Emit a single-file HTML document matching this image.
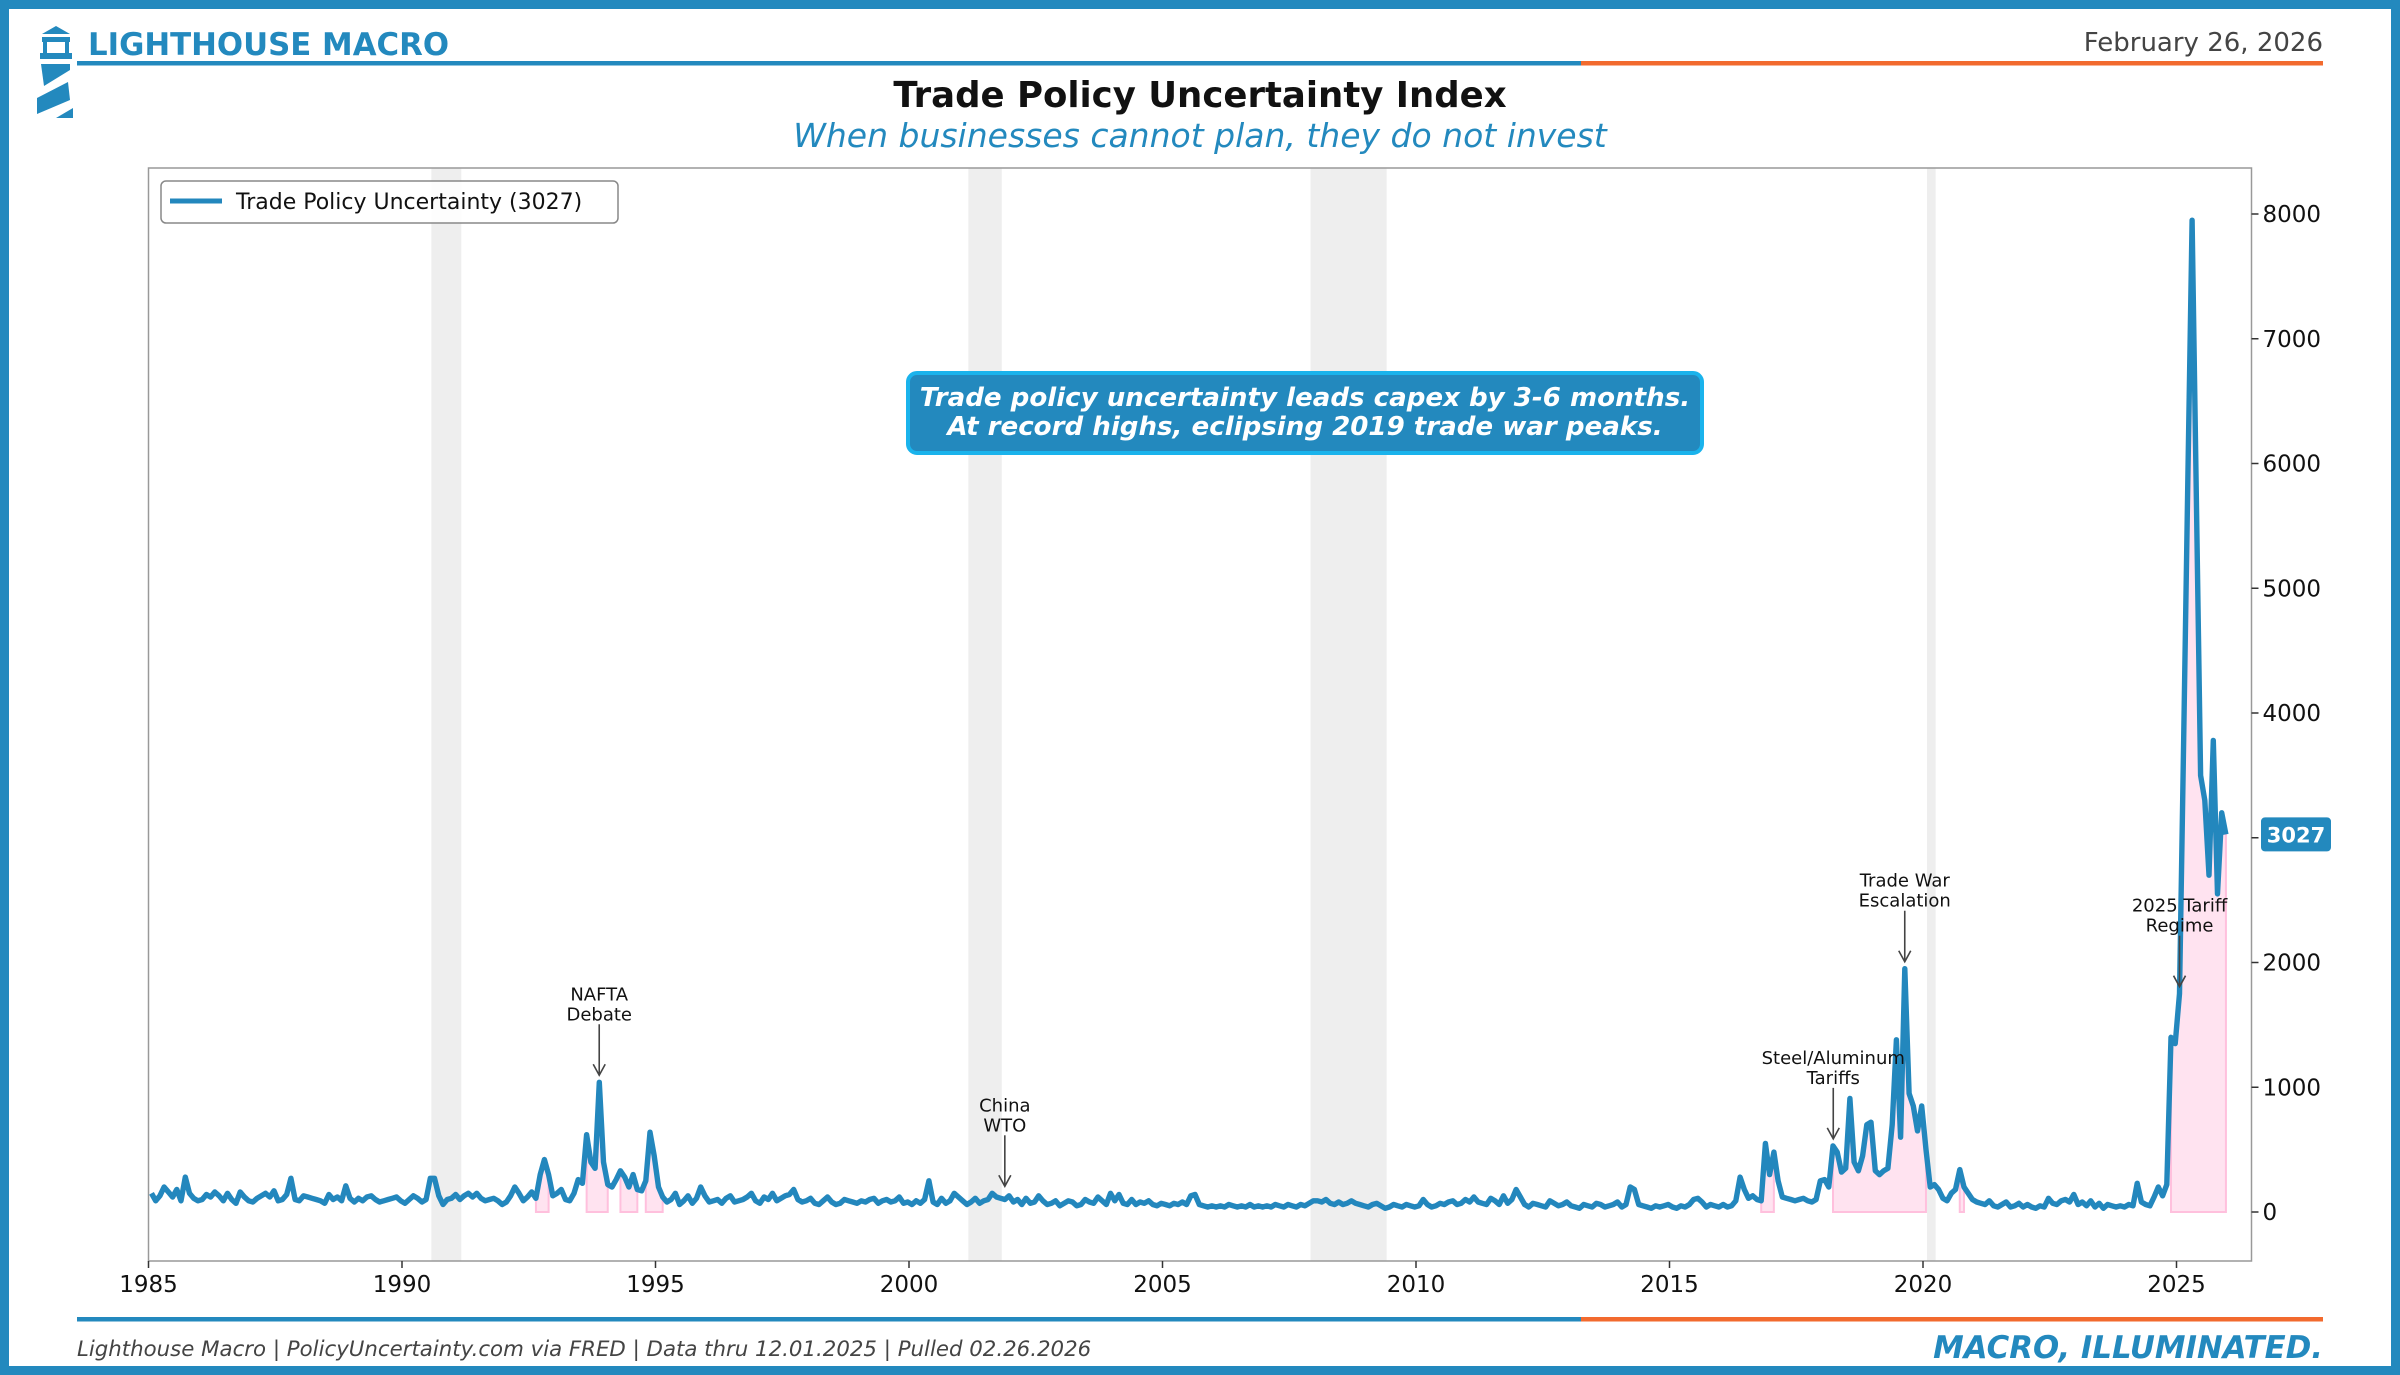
<!DOCTYPE html>
<html><head><meta charset="utf-8">
<style>
html,body{margin:0;padding:0;background:#fff;}
#root{position:relative;width:2400px;height:1375px;overflow:hidden;font-family:"DejaVu Sans","Liberation Sans",sans-serif;}
svg text{font-family:"DejaVu Sans","Liberation Sans",sans-serif;}
</style></head>
<body>
<div id="root">
<svg id="chart" width="2400" height="1375" viewBox="0 0 2400 1375">
  <rect x="4.5" y="4.5" width="2391" height="1366" fill="#fff" stroke="#2389be" stroke-width="9"/>
  <g fill="#2389be">
    <polygon points="42,34 56,26 70,34"/>
    <rect x="42" y="37" width="28" height="5"/>
    <rect x="43" y="42" width="4" height="12"/>
    <rect x="65" y="42" width="4" height="12"/>
    <rect x="40" y="53" width="32" height="6"/>
    <polygon points="41,64 70,64 70,70 44,86"/>
    <polygon points="37,98 68,82 70,100 37,114"/>
    <polygon points="56,118 73,108 73,118"/>
  </g>
  <text x="88" y="55" font-size="30.8" font-weight="bold" fill="#2389be">LIGHTHOUSE MACRO</text>
  <text x="2323" y="51" font-size="26" fill="#444" text-anchor="end">February 26, 2026</text>
  <rect x="77" y="61" width="1504" height="4.5" fill="#2389be"/>
  <rect x="1581" y="61" width="742" height="4.5" fill="#f26a2e"/>
  <text x="1200" y="107" font-size="35.5" font-weight="bold" fill="#111" text-anchor="middle">Trade Policy Uncertainty Index</text>
  <text x="1200" y="147" font-size="33" font-style="italic" fill="#2389be" text-anchor="middle">When businesses cannot plan, they do not invest</text>
  <g id="plot"></g>
  <rect x="77" y="1317" width="1504" height="4.5" fill="#2389be"/>
  <rect x="1581" y="1317" width="742" height="4.5" fill="#f26a2e"/>
  <text x="77" y="1356" font-size="21.3" font-style="italic" fill="#444">Lighthouse Macro | PolicyUncertainty.com via FRED | Data thru 12.01.2025 | Pulled 02.26.2026</text>
  <text x="2323" y="1358" font-size="30.8" font-style="italic" font-weight="bold" fill="#2389be" text-anchor="end">MACRO, ILLUMINATED.</text>
</svg>
</div>
<script>
const startYear = 1985;
const tpuValues = [
150,90,130,200,160,120,180,90,280,150,110,90,
100,140,120,160,130,90,150,100,70,160,120,90,
80,110,130,150,120,170,90,100,140,270,100,90,
130,120,110,100,90,70,140,100,120,90,210,110,
80,110,90,120,130,100,80,90,100,110,120,90,
70,100,130,110,80,100,270,270,130,60,100,110,
140,100,130,150,120,150,110,90,100,110,90,60,
80,130,200,150,90,120,160,110,300,420,300,130,
150,180,100,90,150,260,230,620,400,350,1040,400,
220,200,260,330,280,200,300,180,170,250,640,450,
200,120,80,100,150,60,90,130,70,110,200,130,
80,90,100,70,110,130,80,90,100,120,150,90,
70,120,100,150,90,110,130,140,180,100,80,90,
110,70,60,90,120,80,60,70,100,90,80,70,
90,80,100,110,70,90,100,80,90,120,70,80,
60,90,70,100,250,80,60,110,70,90,150,120,
90,60,80,110,70,90,100,150,120,110,100,130,
80,100,60,110,70,80,130,90,60,70,90,50,
70,90,80,50,60,100,80,70,120,90,60,150,
90,140,70,60,100,60,80,70,90,60,50,70,
60,50,70,60,80,60,130,140,60,50,40,50,
40,50,40,60,50,40,50,40,60,40,50,40,
50,40,60,50,40,60,50,40,60,50,70,90,
90,80,100,70,60,80,60,70,90,70,60,50,
40,60,70,50,30,40,60,50,40,60,50,40,
50,100,60,40,50,70,60,80,90,60,70,100,
80,120,80,70,60,110,90,60,130,70,100,180,
120,60,40,70,60,50,40,90,70,50,60,80,
50,40,30,60,50,40,70,60,40,50,60,80,
40,60,200,180,60,50,40,30,50,40,50,60,
40,30,50,40,60,100,110,80,40,60,50,40,
60,40,50,90,280,180,110,130,100,90,550,300,
480,250,120,110,100,90,100,110,90,80,100,250,
260,200,530,480,320,350,910,400,330,450,700,720,
330,300,330,350,700,1380,600,1950,950,850,650,850,
500,200,220,180,110,90,150,180,340,200,150,100,
80,70,60,90,50,40,60,80,40,50,70,40,
60,40,30,50,40,110,70,60,90,100,80,140,
60,80,50,90,40,70,30,60,50,40,50,40,
60,50,230,80,60,50,120,200,130,220,1400,1350,
1750,3800,5900,7950,5700,3500,3300,2700,3780,2550,3200,3027
];
const recessions = [[1990.58,1991.17],[2001.17,2001.83],[2007.92,2009.42],[2020.08,2020.25]];
const highlights = [[1992.58,1992.85],[1993.58,1994.0],[1994.25,1994.6],[1994.8,1995.1],[2016.75,2017.05],[2018.15,2020.0],[2020.7,2020.8],[2024.83,2025.92]];
const xTicks = [1985,1990,1995,2000,2005,2010,2015,2020,2025];
const yTicks = [0,1000,2000,3000,4000,5000,6000,7000,8000];
const annYears = [1993.83,2001.83,2018.17,2019.58,2025.0];
const annLabels = [["NAFTA","Debate"],["China","WTO"],["Steel/Aluminum","Tariffs"],["Trade War","Escalation"],["2025 Tariff","Regime"]];
const annValues = [1040,150,530,1950,1750];
const lastLabel = "3027";

const NS="http://www.w3.org/2000/svg";
const L=148.5,R=2251.5,T=168,B=1261;
const xs=y=>L+(y-1985)*(2176.5-148.5)/40;
const ys=v=>1212-v*(1212-214)/8000;
const plot=document.getElementById('plot');
function mk(tag,attrs,parent){const e=document.createElementNS(NS,tag);for(const k in attrs)e.setAttribute(k,attrs[k]);(parent||plot).appendChild(e);return e;}
const yearOf=i=>startYear+(i+0.7)/12;

mk('rect',{x:L,y:T,width:R-L,height:B-T,fill:'#fff'});
recessions.forEach(r=>{
  const e=mk('rect',{x:xs(r[0]),y:T,width:xs(r[1])-xs(r[0]),height:B-T,fill:'#bbbbbb','fill-opacity':0.25});
  
  
});
highlights.forEach(h=>{
  let pts=[];
  tpuValues.forEach((v,i)=>{const yr=yearOf(i);if(yr>=h[0]-0.001&&yr<=h[1]+0.07)pts.push([xs(yr),ys(v)]);});
  if(!pts.length)return;
  let d='M'+pts[0][0]+','+ys(0)+pts.map(p=>'L'+p[0]+','+p[1]).join('')+'L'+pts[pts.length-1][0]+','+ys(0)+'Z';
  const e=mk('path',{d:d,fill:'#ffc0dd','fill-opacity':0.45,stroke:'#ffc0dd','stroke-width':2});
  
  
});
let d='';
tpuValues.forEach((v,i)=>{d+=(i?'L':'M')+xs(yearOf(i)).toFixed(1)+','+ys(v).toFixed(1);});
const line=mk('path',{d:d,fill:'none',stroke:'#2387bd','stroke-width':5.4,'stroke-linejoin':'round'});



const frame=mk('rect',{x:L,y:T,width:R-L,height:B-T,fill:'none',stroke:'#999','stroke-width':1.5});



xTicks.forEach(t=>{
  mk('line',{x1:xs(t),x2:xs(t),y1:B,y2:B+7,stroke:'#333','stroke-width':1.5});
  const e=mk('text',{x:xs(t),y:B+31,'font-size':23,'text-anchor':'middle',fill:'#111'});
  e.textContent=t;
  
  
});
yTicks.forEach(t=>{
  mk('line',{x1:R,x2:R+7,y1:ys(t),y2:ys(t),stroke:'#333','stroke-width':1.5});
  const e=mk('text',{x:R+11,y:ys(t)+8,'font-size':23,fill:'#111'});
  e.textContent=t;
  
  
});

annYears.forEach((yr,i)=>{
  const x=xs(yr+0.06),yv=ys(annValues[i]);
  const g=mk('g',{});
  
  
  mk('line',{x1:x,x2:x,y1:yv-58,y2:yv-8,stroke:'#444','stroke-width':1.6},g);
  mk('path',{d:`M${x-6},${yv-18}L${x},${yv-7}L${x+6},${yv-18}`,fill:'none',stroke:'#444','stroke-width':1.6},g);
  annLabels[i].forEach((s,j)=>{
    const t=mk('text',{x:x,y:yv-82+j*20,'font-size':18,'text-anchor':'middle',fill:'#111'},g);
    t.textContent=s;
  });
});

const lg=mk('g',{});


mk('rect',{x:161,y:181,width:457,height:42,rx:5,fill:'#fff','fill-opacity':0.85,stroke:'#888','stroke-width':1.5},lg);
mk('line',{x1:170,x2:222,y1:201,y2:201,stroke:'#2387bd','stroke-width':5},lg);
const lt=mk('text',{x:236,y:209,'font-size':22,fill:'#111'},lg);
lt.textContent='Trade Policy Uncertainty (3027)';

const cg=mk('g',{});


mk('rect',{x:908,y:373,width:794,height:80,rx:9,fill:'#2389be',stroke:'#1ab3ec','stroke-width':4},cg);
const c1=mk('text',{x:1305,y:406,'font-size':26.1,'font-weight':'bold','font-style':'italic',fill:'#fff','text-anchor':'middle'},cg);
c1.textContent='Trade policy uncertainty leads capex by 3-6 months.';
const c2=mk('text',{x:1305,y:435,'font-size':26.1,'font-weight':'bold','font-style':'italic',fill:'#fff','text-anchor':'middle'},cg);
c2.textContent='At record highs, eclipsing 2019 trade war peaks.';

const lastV=tpuValues[tpuValues.length-1];
const bg=mk('g',{});


mk('rect',{x:2261,y:ys(lastV)-17,width:70,height:34,rx:4,fill:'#2389be'},bg);
const bt=mk('text',{x:2296,y:ys(lastV)+8,'font-size':21,'font-weight':'bold',fill:'#fff','text-anchor':'middle'},bg);
bt.textContent=lastLabel;
</script>
</body></html>
